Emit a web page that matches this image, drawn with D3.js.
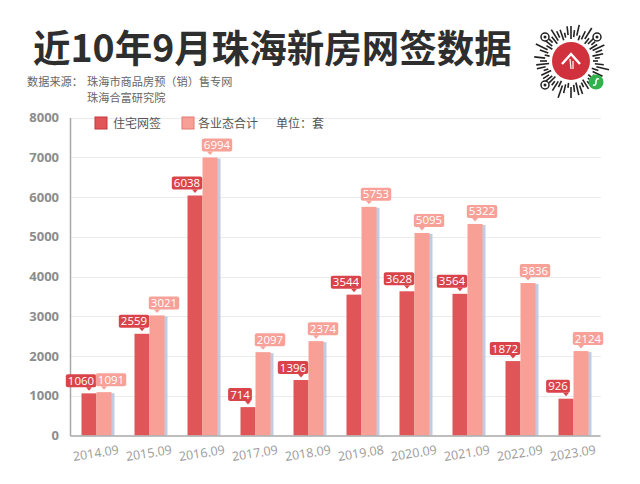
<!DOCTYPE html>
<html><head><meta charset="utf-8">
<script src="https://cdn.jsdelivr.net/npm/d3@7"></script>
<style>html,body{margin:0;padding:0;background:#fff;}svg{display:block;font-family:"Noto Sans CJK SC","Noto Sans",sans-serif;}</style>
</head><body><svg id="c" width="640" height="484"></svg>
<script>
const categories = ["2014.09","2015.09","2016.09","2017.09","2018.09","2019.08","2020.09","2021.09","2022.09","2023.09"];
const residential = [1060,2559,6038,714,1396,3544,3628,3564,1872,926];
const allTypes = [1091,3021,6994,2097,2374,5753,5095,5322,3836,2124];
const yTicks = [0,1000,2000,3000,4000,5000,6000,7000,8000];
const seriesNames = ["住宅网签","各业态合计"];
const titleText = "近10年9月珠海新房网签数据";
const sourceLines = ["数据来源：","珠海市商品房预（销）售专网","珠海合富研究院"];
const unitText = "单位：套";

(function(){
const svg = d3.select("#c");
const darkC = "#e05558", lightC = "#f9a096";
const darkL = "#d9444b", lightL = "#f7a198";

// title
svg.append("text").attr("x",33).attr("y",62).attr("font-size",37.5).attr("font-weight","bold")
  .attr("fill","#2e2e2e").text(titleText);
const src = svg.append("g").attr("font-size",11.2).attr("fill","#666");
src.append("text").attr("x",27).attr("y",85.5).text(sourceLines[0]);
src.append("text").attr("x",87).attr("y",85.5).text(sourceLines[1]);
src.append("text").attr("x",87).attr("y",101.8).text(sourceLines[2]);

// QR-like badge
const qr = svg.append("g").attr("transform","translate(571,61)");
const nDash = 56;
for (let i=0;i<nDash;i++){
  const a = i/nDash*2*Math.PI;
  const r0 = 22 + (i%3)*2, r1 = r0 + 5 + ((i*7)%5)*2;
  qr.append("line").attr("x1",Math.cos(a)*r0).attr("y1",Math.sin(a)*r0)
    .attr("x2",Math.cos(a)*r1).attr("y2",Math.sin(a)*r1)
    .attr("stroke","#222").attr("stroke-width",1.6);
}
[[-26,-24],[26,-24],[-26,24]].forEach(p=>{
  qr.append("circle").attr("cx",p[0]).attr("cy",p[1]).attr("r",4).attr("fill","#fff").attr("stroke","#222").attr("stroke-width",1.5);
  qr.append("circle").attr("cx",p[0]).attr("cy",p[1]).attr("r",1.5).attr("fill","#222");
});
qr.append("circle").attr("r",19).attr("fill","#d0313c");
qr.append("path").attr("d","M-9,3 L0,-7 L9,3").attr("fill","none").attr("stroke","#fff").attr("stroke-width",2.5);
qr.append("path").attr("d","M-1,-2 L0,8 M2,0 L2,8").attr("stroke","#fff").attr("stroke-width",1.2);
qr.append("circle").attr("cx",25).attr("cy",21).attr("r",7.5).attr("fill","#2fb34a");
qr.append("path").attr("d","M22,24 Q25,25 25,21 Q25,17 28,18").attr("fill","none").attr("stroke","#fff").attr("stroke-width",1.6);

// plot
const pLeft = 70, pRight = 600, pTop = 117.5, pBottom = 435.5;
const x = d3.scaleBand().domain(categories).range([pLeft,pRight]);
const y = d3.scaleLinear().domain([0,8000]).range([pBottom,pTop]);
const bw = 15;

const g = svg.append("g");
g.selectAll(".grid").data(yTicks.slice(1)).enter().append("line")
  .attr("x1",pLeft).attr("x2",pRight+1).attr("y1",d=>Math.round(y(d))+0.5).attr("y2",d=>Math.round(y(d))+0.5)
  .attr("stroke","#ececec").attr("stroke-width",1);

const yAxis = d3.axisLeft(y).tickValues(yTicks).tickFormat(d3.format("d")).tickSize(0).tickPadding(11);
const ya = svg.append("g").attr("transform",`translate(${pLeft},0)`).call(yAxis);
ya.select(".domain").attr("stroke","#a8a8a8").attr("stroke-width",1.5);
ya.selectAll("text").attr("font-size",13).attr("font-weight","bold").attr("fill","#8c8c8c")
  .attr("font-family","'Open Sans','DejaVu Sans',sans-serif");

// bars
const barsG = svg.append("g");
categories.forEach((c,i)=>{
  const cx = x(c) + x.bandwidth()/2;
  barsG.append("rect").attr("x",cx+2).attr("y",y(allTypes[i])+1).attr("width",bw+1).attr("height",pBottom-y(allTypes[i])-1)
    .attr("fill","#b7c3da").attr("opacity",0.85);
  barsG.append("rect").attr("x",cx-bw).attr("y",y(residential[i])).attr("width",bw).attr("height",pBottom-y(residential[i])).attr("fill",darkC);
  barsG.append("rect").attr("x",cx).attr("y",y(allTypes[i])).attr("width",bw).attr("height",pBottom-y(allTypes[i])).attr("fill",lightC);
});

// x axis
const xa = svg.append("g").attr("transform",`translate(0,${pBottom})`).call(d3.axisBottom(x).tickSize(0).tickPadding(0));
xa.select(".domain").attr("stroke","#a8a8a8").attr("stroke-width",1.5);
xa.selectAll("text").attr("font-size",12.5).attr("fill","#9a9a9a").attr("text-anchor","middle")
  .attr("font-family","'Open Sans','DejaVu Sans',sans-serif")
  .attr("dy",0).attr("transform","translate(0,22) rotate(-9)");

// labels
function label(px, barTop, val, color, offset){
  const t = String(val);
  const w = t.length*6.6 + 4, h = 13;
  const bxc = px + offset;
  const by = barTop - 6 - h;
  const lg = svg.append("g");
  lg.append("rect").attr("x",bxc-w/2).attr("y",by).attr("width",w).attr("height",h).attr("rx",2).attr("fill",color);
  lg.append("path").attr("d",`M${px-3},${by+h} L${px+3},${by+h} L${px},${by+h+3.5}Z`).attr("fill",color);
  lg.append("text").attr("x",bxc).attr("y",by+h-2.5).attr("text-anchor","middle").attr("font-size",11.5)
    .attr("fill","#fff").attr("font-family","'Open Sans','DejaVu Sans',sans-serif").text(t);
}
categories.forEach((c,i)=>{
  const cx = x(c) + x.bandwidth()/2;
  label(cx-bw/2, y(residential[i]), residential[i], darkL, -8);
  label(cx+bw/2, y(allTypes[i]), allTypes[i], lightL, 7);
});

// legend
const lg = svg.append("g").attr("font-size",12).attr("fill","#555");
lg.append("rect").attr("x",95).attr("y",117).attr("width",12).attr("height",12).attr("fill",darkC).attr("stroke","#c0393d");
lg.append("text").attr("x",113).attr("y",128).text(seriesNames[0]);
lg.append("rect").attr("x",182).attr("y",117).attr("width",12).attr("height",12).attr("fill",lightC).attr("stroke","#e07b72");
lg.append("text").attr("x",198).attr("y",128).text(seriesNames[1]);
lg.append("text").attr("x",276).attr("y",128).text(unitText);
})();
</script></body></html>
